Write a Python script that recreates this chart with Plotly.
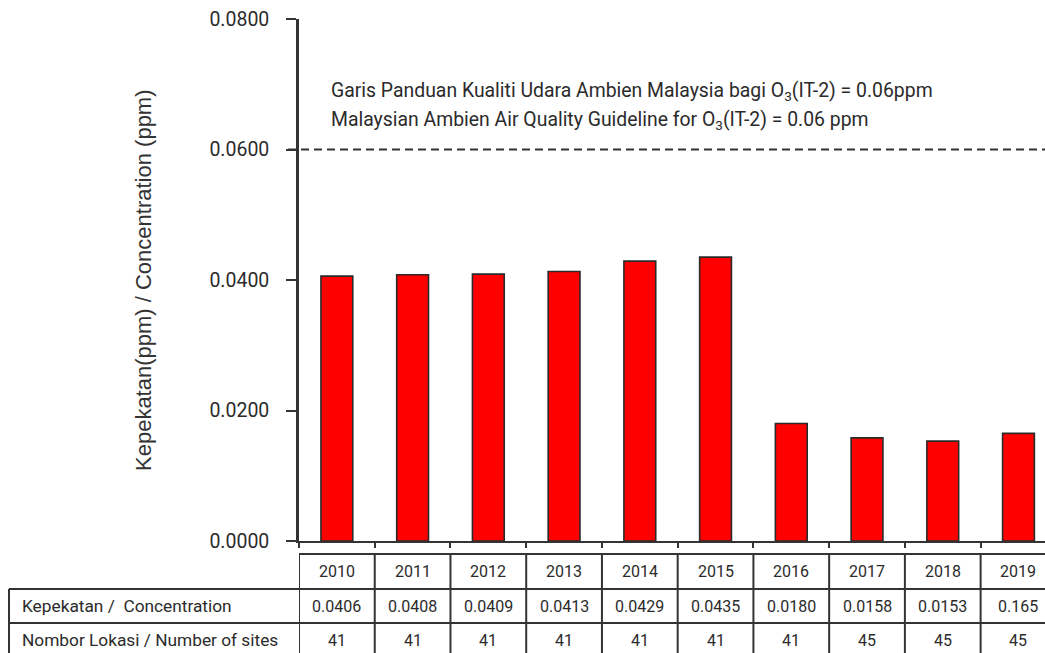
import plotly.graph_objects as go

# --- DATA
years = ['2010', '2011', '2012', '2013', '2014', '2015', '2016', '2017', '2018', '2019']
conc = [0.0406, 0.0408, 0.0409, 0.0413, 0.0429, 0.0435, 0.0180, 0.0158, 0.0153, 0.0165]
conc_labels = ['0.0406', '0.0408', '0.0409', '0.0413', '0.0429', '0.0435', '0.0180', '0.0158', '0.0153', '0.165']
sites = [41, 41, 41, 41, 41, 41, 41, 45, 45, 45]
guideline = 0.06
y_ticks = [0.0, 0.02, 0.04, 0.06, 0.08]
row_labels = ['Kepekatan /  Concentration', 'Nombor Lokasi / Number of sites']

W, H = 1045, 653
FONT = 'Roboto'
INK = '#2b2b2b'

def px_x(p):
    return p / W

def px_y(p):
    return (H - p) / H

fig = go.Figure()
fig.add_trace(go.Bar(
    x=list(range(len(years))), y=conc, width=0.42,
    marker=dict(color='#ff0000', line=dict(color='#2a2a2a', width=1.6)),
    hovertext=years, hoverinfo='text+y'
))

# guideline (dashed)
fig.add_shape(type='line', xref='paper', yref='y',
              x0=px_x(288), x1=1, y0=guideline, y1=guideline,
              line=dict(color='#333333', width=2, dash='8px,5px'))

fig.add_annotation(xref='paper', yref='paper', x=px_x(329), y=px_y(91),
                   xanchor='left', yanchor='middle', showarrow=False,
                   text='Garis Panduan Kualiti Udara Ambien Malaysia bagi O<sub>3</sub>(IT-2) = 0.06ppm',
                   font=dict(family=FONT, size=19.4, color=INK))
fig.add_annotation(xref='paper', yref='paper', x=px_x(329), y=px_y(120),
                   xanchor='left', yanchor='middle', showarrow=False,
                   text='Malaysian Ambien Air Quality Guideline for O<sub>3</sub>(IT-2) = 0.06 ppm',
                   font=dict(family=FONT, size=19.4, color=INK))

# y axis title
fig.add_annotation(xref='paper', yref='paper', x=px_x(143), y=px_y(280),
                   textangle=-90, showarrow=False, xanchor='center', yanchor='middle',
                   text='Kepekatan(ppm) / Concentration (ppm)',
                   font=dict(family='Liberation Sans', size=22, color='#333333'))

# --- TABLE below the chart
lines_y = [554, 589, 623, 660]
left_edge = 9
cell_font = dict(family=FONT, size=16, color=INK)
line_style = dict(color='#333333', width=2)

def mid(k):
    return px_y((lines_y[k] + min(lines_y[k + 1], 657)) / 2)

for i, yr in enumerate(years):
    for k, txt in enumerate([yr, conc_labels[i], str(sites[i])]):
        fig.add_annotation(x=i, xref='x', yref='paper', y=mid(k), yanchor='middle',
                           text=txt, showarrow=False, font=cell_font)

for k, lab in enumerate(row_labels):
    fig.add_annotation(xref='paper', yref='paper', x=px_x(20), y=mid(k + 1),
                       xanchor='left', yanchor='middle',
                       text=lab, showarrow=False, font=dict(family=FONT, size=17.3, color=INK))

# column borders
for i in range(len(years) + 1):
    fig.add_shape(type='line', xref='x', yref='paper', x0=i - 0.5, x1=i - 0.5,
                  y0=px_y(lines_y[0]), y1=px_y(lines_y[-1]), line=line_style)
fig.add_shape(type='line', xref='paper', yref='paper', x0=px_x(left_edge), x1=px_x(left_edge),
              y0=px_y(lines_y[1]), y1=px_y(lines_y[-1]), line=line_style)
# row borders
fig.add_shape(type='line', xref='paper', yref='paper', x0=px_x(299), x1=1,
              y0=px_y(lines_y[0]), y1=px_y(lines_y[0]), line=line_style)
for k in (1, 2):
    fig.add_shape(type='line', xref='paper', yref='paper', x0=px_x(left_edge), x1=1,
                  y0=px_y(lines_y[k]), y1=px_y(lines_y[k]), line=line_style)

fig.update_layout(
    width=W, height=H,
    margin=dict(l=0, r=0, t=0, b=0, autoexpand=False),
    plot_bgcolor='white', paper_bgcolor='white',
    showlegend=False,
    xaxis=dict(domain=[px_x(299), 1], range=[-0.5, 9.35],
               tickvals=[i - 0.5 for i in range(len(years) + 1)],
               showticklabels=False, ticks='outside', ticklen=5,
               tickcolor='#333333', tickwidth=1.5, automargin=False,
               showline=True, linecolor='#333333', linewidth=2, showgrid=False, zeroline=False),
    yaxis=dict(domain=[px_y(541), px_y(19)], range=[0, 0.08], tickvals=y_ticks,
               tickformat='.4f', ticks='outside', ticklen=10, tickcolor='#333333', tickwidth=2,
               showline=True, linecolor='#333333', linewidth=2.5, showgrid=False, zeroline=False,
               ticklabelstandoff=13, automargin=False,
               tickfont=dict(family=FONT, size=19.5, color=INK)),
)

fig.write_html("out.html", config={'displayModeBar': False},
               post_script="document.body.style.margin='0px';")
